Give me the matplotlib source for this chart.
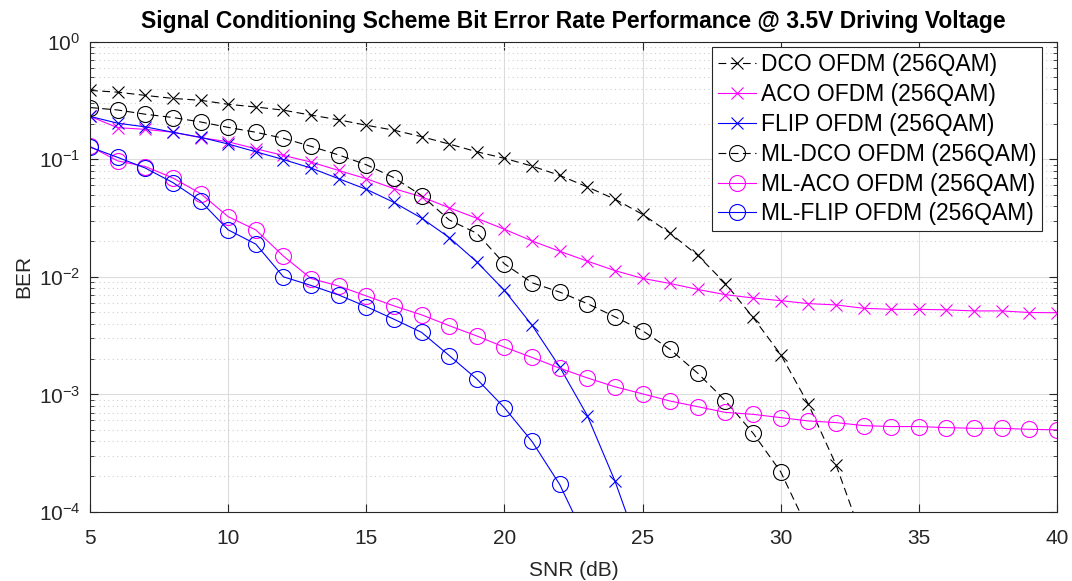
import matplotlib
matplotlib.use("Agg")
import matplotlib.pyplot as plt
import numpy as np

plt.rcParams["font.family"] = ["Liberation Sans", "DejaVu Sans"]
plt.rcParams["mathtext.fontset"] = "custom"
plt.rcParams["mathtext.rm"] = "Liberation Sans"

TITLE = "Signal Conditioning Scheme Bit Error Rate Performance @ 3.5V Driving Voltage"

snr = list(range(5, 41))

# BER values (series end where they leave the axes)
dco = [0.386, 0.373, 0.350, 0.330, 0.318, 0.294, 0.279, 0.262, 0.238, 0.217,
       0.195, 0.177, 0.156, 0.135, 0.116, 0.102, 0.0876, 0.0730, 0.0582, 0.0458,
       0.0340, 0.0235, 0.0152, 0.00877, 0.00451, 0.00218, 8.26e-4, 2.52e-4, 5.6e-5]
aco = [0.232, 0.186, 0.180, 0.170, 0.153, 0.141, 0.123, 0.108, 0.0947, 0.0804,
       0.0684, 0.0563, 0.0480, 0.0387, 0.0315, 0.0254, 0.0202, 0.0165, 0.0136, 0.0113,
       0.0097, 0.00878, 0.00781, 0.00705, 0.00661, 0.00627, 0.00592, 0.00577, 0.00540, 0.00529,
       0.00529, 0.00524, 0.00513, 0.00513, 0.00497, 0.00495]
flip = [0.232, 0.203, 0.189, 0.170, 0.154, 0.135, 0.116, 0.0996, 0.0843, 0.0684,
        0.0556, 0.0430, 0.0316, 0.0216, 0.0134, 0.00766, 0.00387, 0.00171, 6.59e-4, 1.83e-4,
        4.0e-5]
ml_dco = [0.276, 0.263, 0.242, 0.227, 0.208, 0.187, 0.170, 0.151, 0.129, 0.109,
          0.0899, 0.0698, 0.0492, 0.0305, 0.0235, 0.0129, 0.00890, 0.00742, 0.00592, 0.00457,
          0.00348, 0.00241, 0.00151, 8.82e-4, 4.67e-4, 2.19e-4, 7.0e-5]
ml_aco = [0.129, 0.097, 0.0869, 0.0694, 0.0512, 0.0325, 0.0251, 0.0150, 0.00968, 0.00835,
          0.00688, 0.00566, 0.00475, 0.00384, 0.00314, 0.00252, 0.00206, 0.00167, 0.00138, 0.00116,
          0.00101, 8.77e-4, 7.85e-4, 7.02e-4, 6.76e-4, 6.34e-4, 5.94e-4, 5.75e-4, 5.42e-4, 5.32e-4,
          5.32e-4, 5.21e-4, 5.14e-4, 5.14e-4, 5.04e-4, 4.99e-4]
ml_flip = [0.127, 0.104, 0.0843, 0.0634, 0.0441, 0.0251, 0.0190, 0.0100, 0.00845, 0.00701,
           0.00558, 0.00436, 0.00337, 0.00214, 0.00135, 7.69e-4, 3.97e-4, 1.71e-4, 5.5e-5]

labels = ["DCO OFDM (256QAM)", "ACO OFDM (256QAM)", "FLIP OFDM (256QAM)",
          "ML-DCO OFDM (256QAM)", "ML-ACO OFDM (256QAM)", "ML-FLIP OFDM (256QAM)"]

fig = plt.figure(figsize=(10.72, 5.81), dpi=100)
ax = fig.add_axes([0.084, 0.119, 0.902, 0.809])

series = [
    (dco, "k", "x", (0, (7, 4)), 8),
    (aco, "#ff00ff", "x", "-", 8),
    (flip, "#0000ff", "x", "-", 8),
    (ml_dco, "k", "o", (0, (7, 4)), 11.5),
    (ml_aco, "#ff00ff", "o", "-", 11.5),
    (ml_flip, "#0000ff", "o", "-", 11.5),
]
for (vals, col, mk, ls, ms), lab in zip(series, labels):
    ax.semilogy(snr[:len(vals)], vals, color=col, marker=mk, linestyle=ls,
                linewidth=0.8, markersize=ms, markerfacecolor="none",
                markeredgewidth=0.8, label=lab)

ax.set_xlim(5, 40)
ax.set_ylim(1e-4, 1)
ax.set_xticks(np.arange(5, 41, 5))
ax.grid(True, which="major", color="#dcdcdc", linewidth=0.8)
ax.grid(True, which="minor", axis="y", color="#d0d0d0", linestyle=(0, (1, 3)), linewidth=0.8)
ax.set_axisbelow(True)
ax.tick_params(which="both", direction="in", top=True, right=True, labelsize=15,
               colors="#262626", labelcolor="#262626")
ax.tick_params(which="major", length=6)
ax.tick_params(which="minor", length=3)
ax.tick_params(axis="x", pad=12)
ax.tick_params(axis="y", pad=7)
for sp in ax.spines.values():
    sp.set_color("#262626")
    sp.set_linewidth(0.8)

ax.set_xlabel("SNR (dB)", fontsize=15, color="#262626", labelpad=10)
ax.set_ylabel("BER", fontsize=15, color="#262626", labelpad=4)
ax.set_title(TITLE, fontsize=16.5, fontweight="bold", pad=10)

leg = ax.legend(loc="upper right", bbox_to_anchor=(0.972, 0.9186),
                bbox_transform=fig.transFigure, fontsize=16.5, fancybox=False,
                framealpha=1, edgecolor="#262626", handlelength=1.67,
                labelspacing=0.3, borderpad=0.25, handletextpad=0.2,
                borderaxespad=0)
leg.get_frame().set_linewidth(0.8)

fig.savefig("out.png", dpi=100)
